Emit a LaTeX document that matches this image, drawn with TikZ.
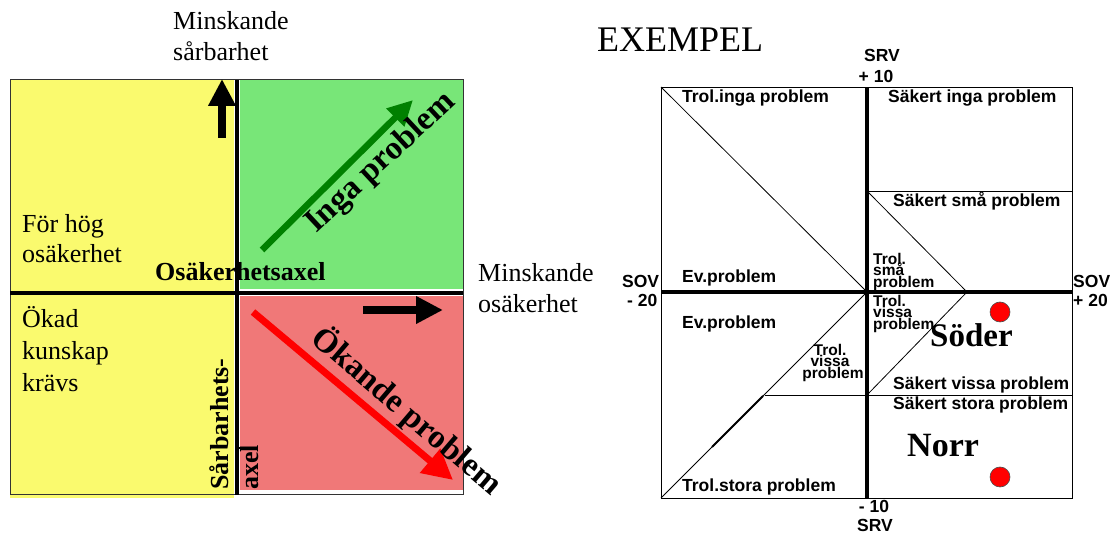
\documentclass[tikz,border=0pt]{standalone}
\usepackage{fontspec}
\setmainfont{Liberation Serif}
\newfontfamily\sv{Liberation Sans}
\usetikzlibrary{arrows.meta}
\definecolor{qyellow}{RGB}{250,250,110}
\definecolor{qgreen}{RGB}{120,230,120}
\definecolor{qred}{RGB}{240,120,120}
\definecolor{dgreen}{RGB}{0,128,0}
\tikzset{
  lab/.style={inner sep=0pt, anchor=base west, font=\fontsize{26}{30}\selectfont},
  blab/.style={inner sep=0pt, font=\fontsize{26}{30}\selectfont\bfseries},
  big/.style={inner sep=0pt, font=\fontsize{33}{36}\selectfont\bfseries},
  sl/.style={inner sep=0pt, anchor=base west, font=\fontsize{17.5}{18}\selectfont\sv\bfseries},
  slc/.style={inner sep=0pt, anchor=base, font=\fontsize{17.5}{18}\selectfont\sv\bfseries},
  ss/.style={inner sep=0pt, anchor=base west, font=\fontsize{15.5}{16}\selectfont\sv\bfseries},
  ssc/.style={inner sep=0pt, anchor=base, font=\fontsize{15.5}{16}\selectfont\sv\bfseries},
  axisline/.style={line width=4pt},
  thin/.style={line width=0.8pt},
  fatarrow/.style={-{Triangle[width=26pt,length=27pt]}, line width=8pt},
  dot/.style={circle, fill=red, draw=black!70, line width=0.6pt, minimum size=20pt, inner sep=0pt}
}
\begin{document}
\begin{tikzpicture}[x=1pt,y=1pt]
\useasboundingbox (0,0) rectangle (1113,535);
% ---------------- left diagram ----------------
\fill[qyellow] (10,37) rectangle (234,455);
\fill[qgreen] (240,246) rectangle (463,455);
\fill[qred] (240,45) rectangle (463,239);
\draw[black!80, line width=1pt] (10,40) rectangle (463,455);
\coordinate (vtop) at (237,455);
\coordinate (vbot) at (237,40);
\coordinate (hl) at (10,242);
\coordinate (hr) at (463,242);
\draw[axisline] (vbot) -- (vtop);
\draw[axisline] (hl) -- (hr);
\coordinate (tickA) at (239,87);
\coordinate (tickB) at (257,87);
\draw[line width=2pt] (tickA) -- (tickB);

\coordinate (uaS) at (222,397);
\coordinate (uaT) at (222,456);
\draw[fatarrow] (uaS) -- (uaT);
\coordinate (raS) at (363,225);
\coordinate (raT) at (443,225);
\draw[fatarrow] (raS) -- (raT);
\coordinate (gaS) at (262,285);
\coordinate (gaT) at (413,435);
\draw[dgreen, -{Triangle[width=24pt,length=25pt]}, line width=6.5pt] (gaS) -- (gaT);
\coordinate (reS) at (253,223);
\coordinate (reT) at (453,55);
\draw[red, -{Triangle[width=30pt,length=30pt]}, line width=7pt] (reS) -- (reT);

\node[lab] (ms1) at (173,505) {Minskande};
\node[lab] (ms2) at (173,474) {sårbarhet};
\node[lab] (fh1) at (22,302) {För hög};
\node[lab] (fh2) at (22,272) {osäkerhet};
\node[blab, anchor=base west] (osax) at (155,254) {Osäkerhetsaxel};
\node[lab] (mo1) at (478,253) {Minskande};
\node[lab] (mo2) at (478,222) {osäkerhet};
\node[lab] (ok1) at (22,207) {Ökad};
\node[lab] (ok2) at (22,175) {kunskap};
\node[lab] (ok3) at (22,143) {krävs};
\node[blab, anchor=base west, rotate=90] (sbh) at (228,45) {Sårbarhets-};
\node[blab, anchor=base west, rotate=90] (axl) at (258,45) {axel};
\node[big, rotate=43] (inga) at (381,372) {Inga problem};
\node[big, rotate=-40.5] (okande) at (407,124) {Ökande problem};

% ---------------- right diagram ----------------
\node[inner sep=0pt, anchor=base west, font=\fontsize{36}{40}\selectfont] (ex) at (597,483) {EXEMPEL};
\coordinate (bl) at (661,37);
\coordinate (tr) at (1072,448);
\draw[thin] (bl) rectangle (tr);
\coordinate (o) at (867,243);
\coordinate (tl) at (661,448);
\coordinate (vt) at (867,448);
\coordinate (vb) at (867,37);
\coordinate (hle) at (661,243);
\coordinate (hri) at (1072,243);
\draw[thin] (tl) -- (o);
\draw[thin] (bl) -- (o);
\coordinate (tkA) at (712,88);
\coordinate (tkB) at (763,139);
\draw[line width=1.8pt] (tkA) -- (tkB);
\coordinate (l1a) at (765,140);
\coordinate (l1b) at (1072,140);
\draw[thin] (l1a) -- (l1b);
\coordinate (l2a) at (867,344);
\coordinate (l2b) at (1072,344);
\draw[thin] (l2a) -- (l2b);
\coordinate (chv) at (967,243);
\coordinate (chb) at (867,140);
\draw[thin] (l2a) -- (chv) -- (chb);
\draw[line width=3.5pt] (vb) -- (vt);
\draw[line width=3.5pt] (hle) -- (hri);

\node[slc] (srv1) at (882,473) {SRV};
\node[slc] (p10) at (876,452) {+ 10};
\node[sl] (t1) at (682,432) {Trol.inga problem};
\node[sl] (t2) at (888,432) {Säkert inga problem};
\node[sl] (t3) at (893,328) {Säkert små problem};
\node[ss] (t4a) at (873,270) {Trol.};
\node[ss] (t4b) at (873,259) {små};
\node[ss] (t4c) at (873,247) {problem};
\node[sl] (ev1) at (682,252) {Ev.problem};
\node[sl] (sovl) at (622,247) {SOV};
\node[sl] (m20) at (627,228) {- 20};
\node[sl] (sovr) at (1073,247) {SOV};
\node[sl] (p20) at (1073,228) {+ 20};
\node[sl] (ev2) at (682,206) {Ev.problem};
\node[ss] (t5a) at (873,228) {Trol.};
\node[ss] (t5b) at (873,217) {vissa};
\node[ss] (t5c) at (873,205) {problem};
\node[ssc] (t6a) at (830,179) {Trol.};
\node[ssc] (t6b) at (830,168) {vissa};
\node[ssc] (t6c) at (833,156) {problem};
\node[sl] (t7) at (893,145) {Säkert vissa problem};
\node[sl] (t8) at (893,125) {Säkert stora problem};
\node[sl] (t9) at (682,43) {Trol.stora problem};
\node[slc] (m10) at (874,22) {- 10};
\node[slc] (srv2) at (875,3) {SRV};
\node[inner sep=0pt, anchor=base west, font=\fontsize{33}{36}\selectfont\bfseries] (soder) at (930,188) {Söder};
\node[inner sep=0pt, anchor=base west, font=\fontsize{34}{36}\selectfont\bfseries] (norr) at (907,78) {Norr};
\node[dot] (d1) at (1000,223) {};
\node[dot] (d2) at (1000,58) {};
\end{tikzpicture}
\end{document}
